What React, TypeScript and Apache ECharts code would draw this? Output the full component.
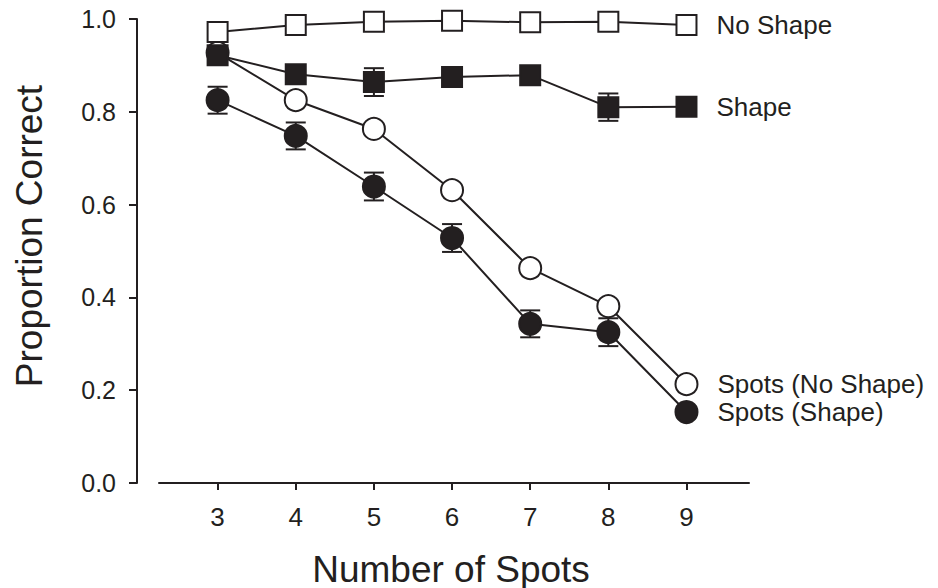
import React, { useEffect, useRef } from "react";
import * as echarts from "echarts";

const spots = [3, 4, 5, 6, 7, 8, 9];
const noShape = [0.972, 0.987, 0.994, 0.996, 0.993, 0.994, 0.987];
const noShapeErr = [0.005, 0.005, 0.005, 0.005, 0.005, 0.005, 0.005];
const shape = [0.922, 0.881, 0.864, 0.875, 0.879, 0.81, 0.811];
const shapeErr = [0.012, 0.012, 0.03, 0.012, 0.012, 0.0295, 0.012];
const spotsNoShape = [0.927, 0.825, 0.763, 0.631, 0.463, 0.381, 0.213];
const spotsNoShapeErr = [0.008, 0.008, 0.008, 0.008, 0.008, 0.008, 0.008];
const spotsShape = [0.825, 0.748, 0.639, 0.528, 0.343, 0.325, 0.153];
const spotsShapeErr = [0.029, 0.029, 0.03, 0.03, 0.029, 0.03, 0.008];
const yTicks = [0, 0.2, 0.4, 0.6, 0.8, 1.0];

const FONT = "'Liberation Sans', Arial, Helvetica, sans-serif";
const INK = "#231f20";

type Def = {
  name: string;
  values: number[];
  errs: number[];
  symbol: string;
  size: number;
  filled: boolean;
};

const defs: Def[] = [
  { name: "Spots (No Shape)", values: spotsNoShape, errs: spotsNoShapeErr, symbol: "circle", size: 22, filled: false },
  { name: "Spots (Shape)", values: spotsShape, errs: spotsShapeErr, symbol: "circle", size: 22, filled: true },
  { name: "No Shape", values: noShape, errs: noShapeErr, symbol: "rect", size: 20, filled: false },
  { name: "Shape", values: shape, errs: shapeErr, symbol: "rect", size: 20, filled: true },
];

export default function App() {
  const ref = useRef<HTMLDivElement>(null);
  useEffect(() => {
    if (!ref.current) return;
    const chart = echarts.init(ref.current, undefined, { renderer: "svg" });
    const last = spots.length - 1;

    const errorSeries = defs.map((d) => ({
      type: "custom",
      name: d.name + " err",
      z: 1,
      silent: true,
      data: spots.map((x, i) => [x, d.values[i] - d.errs[i], d.values[i] + d.errs[i]]),
      renderItem: (params: any, api: any) => {
        const x = api.value(0);
        const lo = api.coord([x, api.value(1)]);
        const hi = api.coord([x, api.value(2)]);
        const hw = 10;
        const style = { stroke: INK, lineWidth: 2 };
        return {
          type: "group",
          children: [
            { type: "line", shape: { x1: lo[0], y1: lo[1], x2: hi[0], y2: hi[1] }, style },
            { type: "line", shape: { x1: lo[0] - hw, y1: lo[1], x2: lo[0] + hw, y2: lo[1] }, style },
            { type: "line", shape: { x1: hi[0] - hw, y1: hi[1], x2: hi[0] + hw, y2: hi[1] }, style },
          ],
        };
      },
    }));

    const lineSeries = defs.map((d, k) => ({
      type: "line",
      name: d.name,
      z: 3 + k,
      symbol: d.symbol,
      symbolSize: d.size,
      showAllSymbol: true,
      lineStyle: { color: INK, width: 2 },
      itemStyle: { color: d.filled ? INK : "#ffffff", borderColor: INK, borderWidth: 2 },
      emphasis: { disabled: true },
      data: spots.map((x, i) =>
        i === last
          ? {
              value: [x, d.values[i]],
              label: {
                show: true,
                position: "right",
                distance: 19,
                formatter: d.name,
                color: INK,
                fontSize: 26,
                fontFamily: FONT,
              },
            }
          : [x, d.values[i]]
      ),
    }));

    chart.setOption({
      animation: false,
      backgroundColor: "#ffffff",
      grid: { left: 159, right: 189, top: 19, bottom: 105, containLabel: false },
      xAxis: {
        type: "value",
        min: 2.25,
        max: 9.8,
        axisLine: { show: true, onZero: false, lineStyle: { color: INK, width: 2 } },
        axisTick: { show: true, length: 7, customValues: spots, lineStyle: { color: INK, width: 2 } },
        axisLabel: {
          customValues: spots,
          color: INK,
          fontSize: 26,
          fontFamily: FONT,
          margin: 21,
        },
        splitLine: { show: false },
      },
      yAxis: {
        type: "value",
        min: 0,
        max: 1,
        interval: 0.2,
        offset: 22,
        axisLine: { show: true, lineStyle: { color: INK, width: 2 } },
        axisTick: { show: true, length: 8, customValues: yTicks, lineStyle: { color: INK, width: 2 } },
        axisLabel: {
          customValues: yTicks,
          formatter: (v: number) => v.toFixed(1),
          color: INK,
          fontSize: 25,
          fontFamily: FONT,
          margin: 21,
        },
        splitLine: { show: false },
      },
      graphic: [
        {
          type: "text",
          x: 29,
          y: 236,
          rotation: Math.PI / 2,
          style: {
            text: "Proportion Correct",
            fill: INK,
            fontSize: 37,
            fontFamily: FONT,
            align: "center",
            verticalAlign: "middle",
          },
        },
        {
          type: "text",
          x: 451,
          y: 569,
          style: {
            text: "Number of Spots",
            fill: INK,
            fontSize: 37,
            fontFamily: FONT,
            align: "center",
            verticalAlign: "middle",
          },
        },
      ],
      series: [...errorSeries, ...lineSeries],
    });
    return () => chart.dispose();
  }, []);
  return (
    <div
      ref={ref}
      style={{ position: "fixed", left: 0, top: 0, width: 938, height: 588, background: "#fff" }}
    />
  );
}
